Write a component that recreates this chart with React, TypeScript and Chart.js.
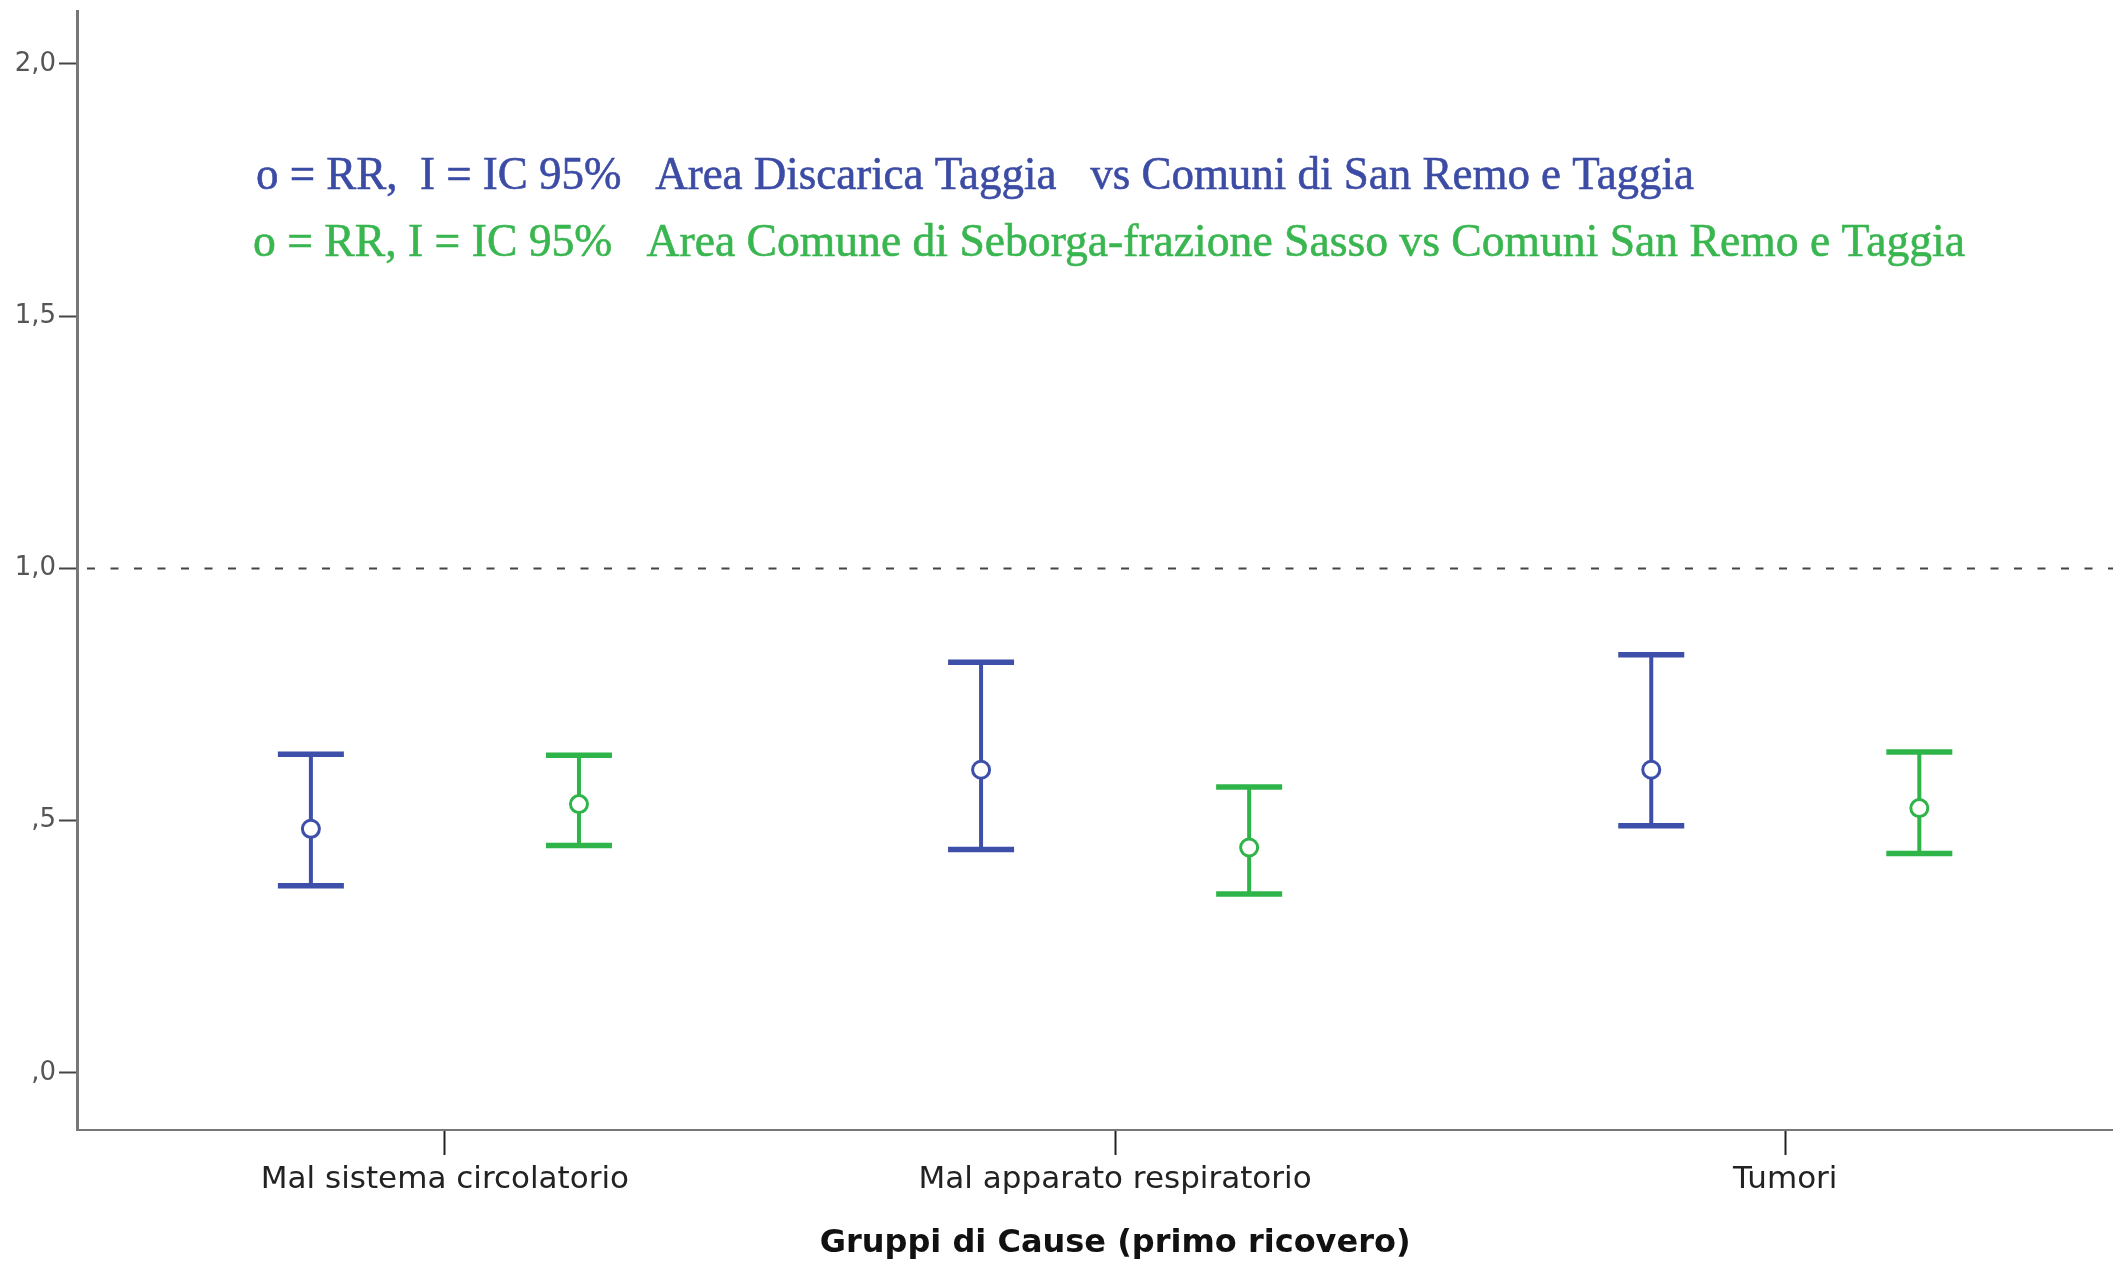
import React, { useEffect, useRef } from "react";
import { Chart, registerables } from "chart.js";

Chart.register(...registerables);

// ---- Data ----
const categories = ["Mal sistema circolatorio", "Mal apparato respiratorio", "Tumori"];
const yTickValues = [0, 0.5, 1, 1.5, 2];
const yTickLabels = [",0", ",5", "1,0", "1,5", "2,0"];

// Area Discarica Taggia (blue)
const blueRR = [0.484, 0.601, 0.601];
const blueLow = [0.371, 0.443, 0.49];
const blueHigh = [0.632, 0.814, 0.829];

// Area Comune di Seborga-frazione Sasso (green)
const greenRR = [0.533, 0.447, 0.525];
const greenLow = [0.451, 0.355, 0.435];
const greenHigh = [0.63, 0.567, 0.636];

const referenceValue = 1.0;
const legendLines = [
  "o = RR,  I = IC 95%   Area Discarica Taggia   vs Comuni di San Remo e Taggia",
  "o = RR, I = IC 95%   Area Comune di Seborga-frazione Sasso vs Comuni San Remo e Taggia",
];
const xTitle = "Gruppi di Cause (primo ricovero)";

// ---- Layout / style constants ----
const W = 2113;
const H = 1267;
const OFFSET = 0.2;
const BLUE = "rgb(61,79,168)";
const GREEN = "rgb(46,180,72)";
const TEXT_BLUE = "rgb(60,76,165)";
const TEXT_GREEN = "rgb(58,182,80)";
const legendLayout = [
  { x: 256, y: 189, width: 1438, color: TEXT_BLUE },
  { x: 253, y: 256, width: 1712, color: TEXT_GREEN },
];
const X_TITLE_Y = 1244;

function seriesDatasets(rr: number[], low: number[], high: number[], offset: number, color: string) {
  const stemData: any[] = [];
  rr.forEach((_, i) => {
    stemData.push({ x: i + offset, y: low[i] });
    stemData.push({ x: i + offset, y: high[i] });
    stemData.push({ x: i + offset, y: null });
  });
  const capData: any[] = [];
  rr.forEach((_, i) => {
    capData.push({ x: i + offset, y: low[i] });
    capData.push({ x: i + offset, y: high[i] });
  });
  const pointData = rr.map((v, i) => ({ x: i + offset, y: v }));
  return [
    {
      type: "line",
      data: stemData,
      borderColor: color,
      borderWidth: 4,
      pointRadius: 0,
      spanGaps: false,
      tension: 0,
      fill: false,
      order: 3,
    },
    {
      type: "scatter",
      data: capData,
      pointStyle: "line",
      pointRadius: 33,
      pointBorderWidth: 5.5,
      pointBorderColor: color,
      borderColor: color,
      order: 2,
    },
    {
      type: "scatter",
      data: pointData,
      pointStyle: "circle",
      pointRadius: 8.5,
      pointBorderWidth: 3,
      pointBorderColor: color,
      pointBackgroundColor: "#ffffff",
      borderColor: color,
      backgroundColor: "#ffffff",
      order: 1,
    },
  ];
}

const refLinePlugin = {
  id: "refLine",
  beforeDatasetsDraw(chart: any) {
    const { ctx, chartArea, scales } = chart;
    const y = scales.y.getPixelForValue(referenceValue);
    ctx.save();
    ctx.strokeStyle = "#444";
    ctx.lineWidth = 2;
    ctx.setLineDash([8, 15.5]);
    ctx.beginPath();
    ctx.moveTo(chartArea.left + 10, y);
    ctx.lineTo(chartArea.right, y);
    ctx.stroke();
    ctx.restore();
  },
};

const textPlugin = {
  id: "legendText",
  afterDraw(chart: any) {
    const { ctx, scales } = chart;
    ctx.save();
    ctx.font = '46px "Liberation Serif"';
    ctx.textBaseline = "alphabetic";
    ctx.textAlign = "left";
    legendLines.forEach((text, i) => {
      const lay = legendLayout[i];
      const m = ctx.measureText(text).width;
      ctx.save();
      ctx.translate(lay.x, lay.y);
      ctx.scale(lay.width / m, 1);
      ctx.fillStyle = lay.color;
      ctx.strokeStyle = lay.color;
      ctx.lineWidth = 0.6;
      ctx.fillText(text, 0, 0);
      ctx.strokeText(text, 0, 0);
      ctx.restore();
    });
    // x-axis title, centred under the middle category
    ctx.font = 'bold 32px "DejaVu Sans"';
    ctx.textAlign = "center";
    ctx.textBaseline = "middle";
    ctx.fillStyle = "#111";
    ctx.fillText(xTitle, scales.x.getPixelForValue((categories.length - 1) / 2), X_TITLE_Y);
    ctx.restore();
  },
};

function zeroPadding(s: any) {
  s.paddingLeft = 0;
  s.paddingRight = 0;
  s.paddingTop = 0;
  s.paddingBottom = 0;
}

export default function App() {
  const ref = useRef<HTMLCanvasElement | null>(null);

  useEffect(() => {
    document.body.style.margin = "0";
    document.body.style.overflow = "hidden";
    const canvas = ref.current;
    if (!canvas) return;
    const datasets = [
      ...seriesDatasets(blueRR, blueLow, blueHigh, -OFFSET, BLUE),
      ...seriesDatasets(greenRR, greenLow, greenHigh, OFFSET, GREEN),
    ];
    const chart = new Chart(canvas, {
      type: "scatter",
      data: { datasets: datasets as any },
      options: {
        responsive: false,
        animation: false,
        devicePixelRatio: 1,
        events: [],
        layout: { autoPadding: false, padding: { top: 11, right: 0, left: 0, bottom: 0 } },
        plugins: {
          legend: { display: false },
          tooltip: { enabled: false },
          title: { display: false },
        },
        scales: {
          x: {
            type: "linear",
            min: -0.549,
            max: 2.489,
            afterBuildTicks: (s: any) => {
              s.ticks = categories.map((_, i) => ({ value: i }));
            },
            afterFit: (s: any) => {
              s.height = 137;
              zeroPadding(s);
            },
            ticks: {
              autoSkip: false,
              maxRotation: 0,
              padding: 6,
              color: "#222",
              font: { family: "DejaVu Sans", size: 31 },
              callback: (_v: any, i: number) => categories[i],
            },
            grid: {
              drawOnChartArea: false,
              drawTicks: true,
              tickLength: 25,
              tickWidth: 2,
              tickColor: "#222",
            },
            border: { display: true, color: "#777", width: 2 },
            title: { display: false },
          },
          y: {
            type: "linear",
            min: -0.113,
            max: 2.105,
            afterBuildTicks: (s: any) => {
              s.ticks = yTickValues.map((v) => ({ value: v }));
            },
            afterFit: (s: any) => {
              s.width = 77;
              zeroPadding(s);
            },
            ticks: {
              padding: 3,
              color: "#555",
              font: { family: "DejaVu Sans", size: 26 },
              callback: (_v: any, i: number) => yTickLabels[i],
            },
            grid: {
              drawOnChartArea: false,
              drawTicks: true,
              tickLength: 18,
              tickWidth: 2,
              tickColor: "#444",
            },
            border: { display: true, color: "#777", width: 3 },
          },
        },
      } as any,
      plugins: [refLinePlugin, textPlugin],
    });
    return () => chart.destroy();
  }, []);

  return (
    <div style={{ width: W, height: H, position: "relative", background: "#fff" }}>
      <canvas ref={ref} width={W} height={H} style={{ width: W, height: H, display: "block" }} />
    </div>
  );
}
